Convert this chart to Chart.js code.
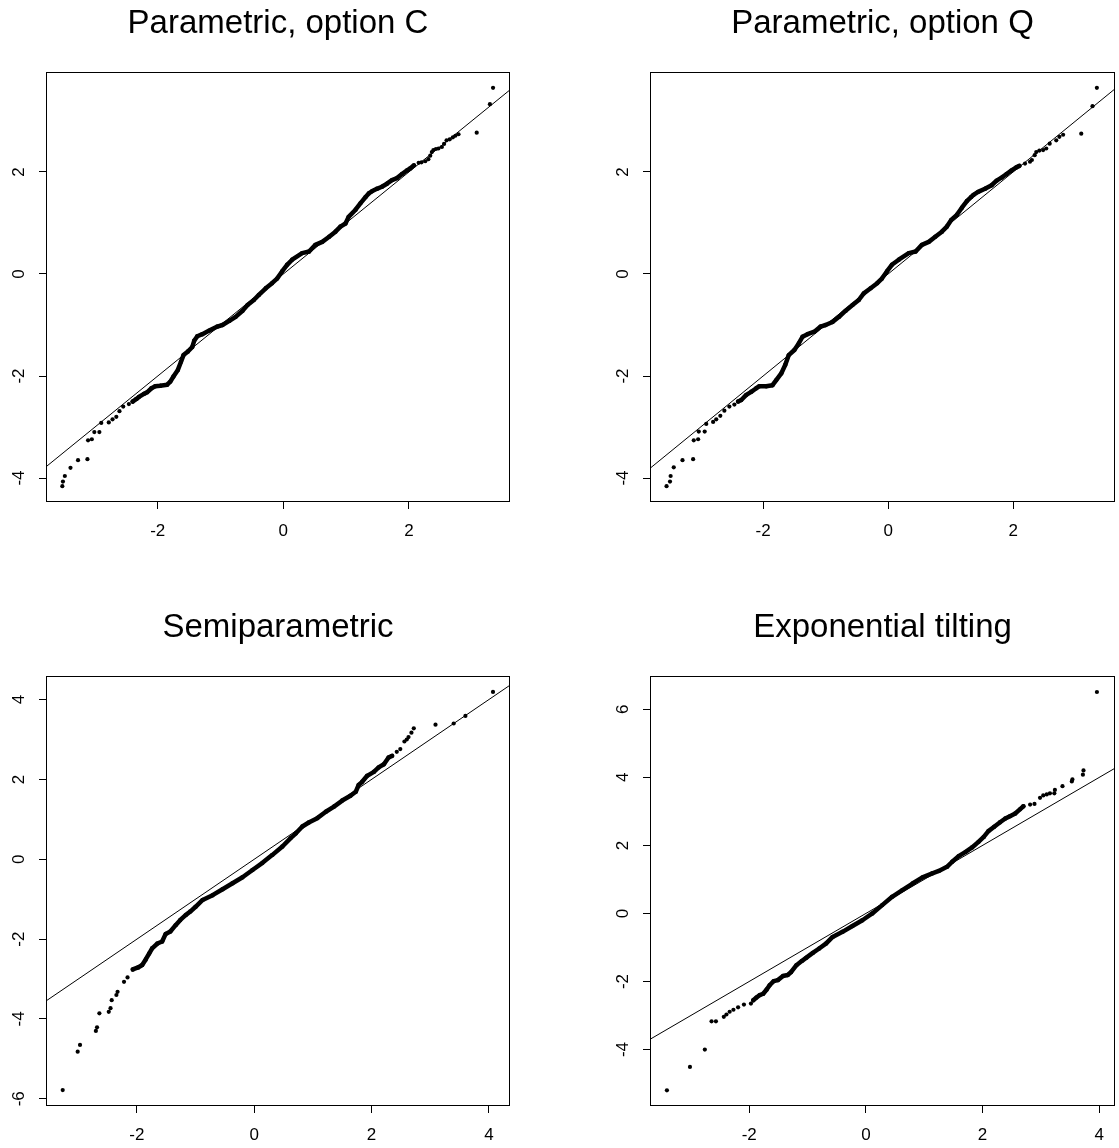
<!DOCTYPE html>
<html><head><meta charset="utf-8">
<script src="https://cdn.jsdelivr.net/npm/chart.js@4.4.1/dist/chart.umd.min.js"></script>
<style>
html,body{margin:0;padding:0;background:#fff;overflow:hidden;}
body{width:1119px;height:1148px;position:relative;}
canvas{position:absolute;}
</style></head><body>
<canvas id="c1" width="514" height="544" style="left:0px;top:0px"></canvas>
<canvas id="c2" width="515" height="544" style="left:604px;top:0px"></canvas>
<canvas id="c3" width="514" height="544" style="left:0px;top:604px"></canvas>
<canvas id="c4" width="515" height="544" style="left:604px;top:604px"></canvas>
<script>
// ---------- titles ----------
const titleC = "Parametric, option C";
const titleQ = "Parametric, option Q";
const titleS = "Semiparametric";
const titleE = "Exponential tilting";

// ---------- axis ranges and ticks ----------
const xRangeC = [-3.78, 3.61], yRangeC = [-4.47, 3.96];
const xRangeQ = [-3.81, 3.63], yRangeQ = [-4.47, 3.96];
const xRangeS = [-3.55, 4.36], yRangeS = [-6.18, 4.59];
const xRangeE = [-3.70, 4.27], yRangeE = [-5.66, 6.98];
const xTicksC = [-2, 0, 2], yTicksC = [-4, -2, 0, 2];
const xTicksQ = [-2, 0, 2], yTicksQ = [-4, -2, 0, 2];
const xTicksS = [-2, 0, 2, 4], yTicksS = [-6, -4, -2, 0, 2, 4];
const xTicksE = [-2, 0, 2, 4], yTicksE = [-4, -2, 0, 2, 4, 6];

// ---------- reference lines (intercept, slope) ----------
const fitC = [0, 1], fitQ = [0, 1], fitS = [0, 1], fitE = [0, 1];

// ---------- Parametric, option C : [theoretical, sample] ----------
const lowC = [[-3.52,-4.16],[-3.51,-4.07],[-3.48,-3.96],[-3.39,-3.80],[-3.27,-3.65],[-3.12,-3.63],[-3.11,-3.26],[-3.05,-3.24],[-3.01,-3.10],[-2.93,-3.10],[-2.90,-2.92],[-2.78,-2.91],[-2.72,-2.85],[-2.66,-2.80],[-2.61,-2.69],[-2.55,-2.60],[-2.46,-2.55]];
const denseC = [[-2.40,-2.50],[-2.34,-2.45],[-2.30,-2.41],[-2.22,-2.35],[-2.17,-2.32],[-2.10,-2.24],[-2.04,-2.20],[-1.96,-2.19],[-1.85,-2.17],[-1.80,-2.11],[-1.75,-2.01],[-1.68,-1.88],[-1.63,-1.72],[-1.59,-1.59],[-1.52,-1.52],[-1.45,-1.43],[-1.42,-1.31],[-1.37,-1.22],[-1.29,-1.18],[-1.18,-1.11],[-1.05,-1.03],[-0.97,-1.00],[-0.86,-0.92],[-0.76,-0.84],[-0.65,-0.72],[-0.57,-0.61],[-0.47,-0.51],[-0.39,-0.41],[-0.28,-0.28],[-0.18,-0.18],[-0.10,-0.09],[-0.02,0.05],[0.06,0.18],[0.14,0.28],[0.30,0.41],[0.41,0.44],[0.51,0.57],[0.62,0.63],[0.73,0.73],[0.83,0.83],[0.91,0.93],[0.99,0.99],[1.04,1.12],[1.15,1.26],[1.23,1.39],[1.31,1.51],[1.36,1.58],[1.41,1.62],[1.49,1.67],[1.57,1.71],[1.65,1.77],[1.73,1.84],[1.81,1.88],[1.89,1.96],[1.97,2.03],[2.02,2.07],[2.08,2.13]];
const highC = [[2.155,2.18],[2.20,2.19],[2.26,2.21],[2.31,2.25],[2.34,2.32],[2.365,2.39],[2.39,2.43],[2.43,2.45],[2.47,2.46],[2.525,2.49],[2.56,2.55],[2.60,2.62],[2.65,2.64],[2.70,2.68],[2.74,2.71],[2.79,2.74],[3.08,2.77],[3.29,3.33],[3.34,3.65]];

// ---------- Parametric, option Q ----------
const lowQ = [[-3.545,-4.16],[-3.49,-4.07],[-3.48,-3.96],[-3.43,-3.79],[-3.29,-3.65],[-3.12,-3.63],[-3.11,-3.26],[-3.04,-3.24],[-3.03,-3.09],[-2.935,-3.09],[-2.91,-2.94],[-2.80,-2.90],[-2.75,-2.85],[-2.685,-2.78],[-2.62,-2.68],[-2.54,-2.60],[-2.46,-2.56]];
const denseQ = [[-2.40,-2.50],[-2.35,-2.47],[-2.27,-2.37],[-2.19,-2.31],[-2.11,-2.24],[-2.06,-2.20],[-1.95,-2.20],[-1.85,-2.18],[-1.79,-2.08],[-1.71,-1.95],[-1.645,-1.78],[-1.59,-1.59],[-1.50,-1.49],[-1.43,-1.36],[-1.37,-1.23],[-1.29,-1.18],[-1.18,-1.13],[-1.08,-1.03],[-1.00,-1.00],[-0.89,-0.94],[-0.785,-0.84],[-0.68,-0.72],[-0.57,-0.61],[-0.47,-0.51],[-0.39,-0.38],[-0.28,-0.28],[-0.175,-0.18],[-0.10,-0.09],[-0.02,0.05],[0.06,0.18],[0.17,0.28],[0.33,0.41],[0.44,0.44],[0.54,0.57],[0.65,0.63],[0.755,0.73],[0.86,0.83],[0.94,0.93],[1.01,1.06],[1.10,1.16],[1.18,1.30],[1.26,1.43],[1.33,1.51],[1.365,1.55],[1.44,1.61],[1.55,1.67],[1.656,1.74],[1.735,1.83],[1.815,1.89],[1.895,1.96],[1.975,2.03],[2.05,2.09],[2.10,2.12]];
const highQ = [[2.19,2.165],[2.27,2.20],[2.30,2.235],[2.345,2.33],[2.37,2.39],[2.42,2.42],[2.48,2.43],[2.53,2.46],[2.585,2.555],[2.69,2.62],[2.74,2.69],[2.80,2.73],[3.09,2.75],[3.27,3.29],[3.34,3.65]];

// ---------- Semiparametric ----------
const lowS = [[-3.265,-5.78],[-3.01,-4.82],[-2.97,-4.65],[-2.70,-4.30],[-2.68,-4.21],[-2.64,-3.86],[-2.48,-3.82],[-2.45,-3.73],[-2.43,-3.53],[-2.35,-3.40],[-2.33,-3.32],[-2.22,-3.07],[-2.16,-2.96]];
const denseS = [[-2.07,-2.76],[-1.98,-2.71],[-1.91,-2.65],[-1.85,-2.51],[-1.79,-2.36],[-1.74,-2.23],[-1.65,-2.11],[-1.57,-2.06],[-1.51,-1.87],[-1.43,-1.81],[-1.34,-1.65],[-1.26,-1.52],[-1.17,-1.40],[-1.09,-1.31],[-1.00,-1.19],[-0.88,-1.02],[-0.71,-0.90],[-0.54,-0.75],[-0.37,-0.60],[-0.20,-0.45],[-0.03,-0.27],[0.14,-0.09],[0.31,0.11],[0.48,0.32],[0.62,0.53],[0.71,0.65],[0.82,0.82],[0.93,0.92],[1.075,1.03],[1.22,1.19],[1.36,1.32],[1.50,1.47],[1.64,1.59],[1.73,1.69],[1.78,1.86],[1.84,1.94],[1.925,2.09],[2.04,2.19],[2.12,2.30],[2.21,2.38],[2.29,2.55],[2.35,2.59]];
const highS = [[2.43,2.69],[2.49,2.76],[2.56,2.95],[2.60,3.00],[2.63,3.06],[2.68,3.17],[2.72,3.28],[3.09,3.37],[3.40,3.40],[3.60,3.59],[4.07,4.19]];

// ---------- Exponential tilting ----------
const lowE = [[-3.41,-5.20],[-3.015,-4.51],[-2.76,-4.00],[-2.645,-3.17],[-2.57,-3.17],[-2.435,-3.04],[-2.39,-2.97],[-2.335,-2.89],[-2.27,-2.83],[-2.19,-2.76],[-2.09,-2.68],[-1.97,-2.65]];
const denseE = [[-1.93,-2.55],[-1.875,-2.47],[-1.82,-2.40],[-1.76,-2.36],[-1.70,-2.235],[-1.65,-2.11],[-1.58,-1.99],[-1.51,-1.96],[-1.42,-1.84],[-1.34,-1.81],[-1.28,-1.72],[-1.19,-1.52],[-1.10,-1.40],[-1.02,-1.30],[-0.91,-1.16],[-0.80,-1.03],[-0.68,-0.88],[-0.57,-0.69],[-0.40,-0.54],[-0.23,-0.37],[-0.06,-0.20],[0.11,0.00],[0.28,0.245],[0.45,0.49],[0.625,0.685],[0.80,0.88],[0.97,1.06],[1.14,1.18],[1.25,1.25],[1.39,1.37],[1.48,1.52],[1.59,1.685],[1.71,1.81],[1.82,1.94],[1.93,2.105],[2.02,2.25],[2.10,2.42],[2.20,2.55],[2.30,2.68],[2.39,2.79],[2.47,2.86],[2.56,2.94],[2.64,3.06],[2.70,3.15]];
const highE = [[2.815,3.20],[2.89,3.22],[2.985,3.40],[3.04,3.47],[3.10,3.50],[3.155,3.53],[3.23,3.53],[3.24,3.63],[3.37,3.74],[3.53,3.88],[3.54,3.94],[3.72,4.08],[3.73,4.205],[3.96,6.51]];

// ---------- drawing ----------
const FONT = '"Liberation Sans", Arial, Helvetica, sans-serif';
Chart.defaults.font.family = FONT;
Chart.defaults.color = '#000';

const rAxes = {
  id: 'rAxes',
  afterDraw(chart) {
    const ctx = chart.ctx, a = chart.chartArea, ys = chart.scales.y;
    ctx.save();
    ctx.strokeStyle = '#000';
    ctx.lineWidth = 1;
    ctx.strokeRect(a.left + 0.5, a.top + 0.5, a.right - a.left - 1, a.bottom - a.top - 1);
    ctx.fillStyle = '#000';
    ctx.font = '17px ' + FONT;
    ctx.textAlign = 'center';
    ctx.textBaseline = 'middle';
    ys.ticks.forEach(t => {
      const y = ys.getPixelForValue(t.value);
      ctx.save();
      ctx.translate(a.left - 27, y);
      ctx.rotate(-Math.PI / 2);
      ctx.fillText(String(t.value), 0, 0);
      ctx.restore();
    });
    ctx.restore();
  }
};

const toXY = arr => arr.map(p => ({x: p[0], y: p[1]}));

function qqChart(id, title, low, dense, high, fit, xr, yr, xt, yt) {
  const linePts = xr.map(x => ({x: x, y: fit[0] + fit[1] * x}));
  new Chart(document.getElementById(id), {
    type: 'scatter',
    data: {
      datasets: [
        {data: linePts, showLine: true, borderColor: '#000', borderWidth: 1, pointRadius: 0},
        {data: toXY(dense), showLine: true, borderColor: '#000', borderWidth: 4.5,
         borderJoinStyle: 'round', borderCapStyle: 'round',
         pointRadius: 2.2, pointBackgroundColor: '#000', pointBorderWidth: 0},
        {data: toXY(low.concat(high)), showLine: false, pointRadius: 2.1,
         pointBackgroundColor: '#000', pointBorderWidth: 0}
      ]
    },
    options: {
      responsive: false, animation: false, devicePixelRatio: 1,
      layout: {padding: {left: 0, right: 2, top: 0, bottom: 0}},
      plugins: {
        legend: {display: false},
        tooltip: {enabled: false},
        title: {display: true, text: title, color: '#000', fullSize: false,
                font: {size: 33, weight: 'normal', family: FONT, lineHeight: 1.2},
                padding: {top: 4, bottom: 28.4}}
      },
      scales: {
        x: {
          type: 'linear', position: 'bottom', min: xr[0], max: xr[1],
          afterBuildTicks: s => { s.ticks = xt.map(v => ({value: v})); },
          afterFit: s => { s.height = 42; },
          border: {display: false},
          grid: {display: true, drawOnChartArea: false, drawTicks: true, tickLength: 7, color: '#000', lineWidth: 1},
          ticks: {color: '#000', font: {size: 17, family: FONT}, padding: 12, maxRotation: 0, minRotation: 0,
                  autoSkip: false, callback: v => String(v)}
        },
        y: {
          type: 'linear', position: 'left', min: yr[0], max: yr[1],
          afterBuildTicks: s => { s.ticks = yt.map(v => ({value: v})); },
          afterFit: s => { s.width = 46; },
          border: {display: false},
          grid: {display: true, drawOnChartArea: false, drawTicks: true, tickLength: 7, color: '#000', lineWidth: 1},
          ticks: {display: false, callback: v => String(v)}
        }
      }
    },
    plugins: [rAxes]
  });
}

qqChart('c1', titleC, lowC, denseC, highC, fitC, xRangeC, yRangeC, xTicksC, yTicksC);
qqChart('c2', titleQ, lowQ, denseQ, highQ, fitQ, xRangeQ, yRangeQ, xTicksQ, yTicksQ);
qqChart('c3', titleS, lowS, denseS, highS, fitS, xRangeS, yRangeS, xTicksS, yTicksS);
qqChart('c4', titleE, lowE, denseE, highE, fitE, xRangeE, yRangeE, xTicksE, yTicksE);
</script>
</body></html>
